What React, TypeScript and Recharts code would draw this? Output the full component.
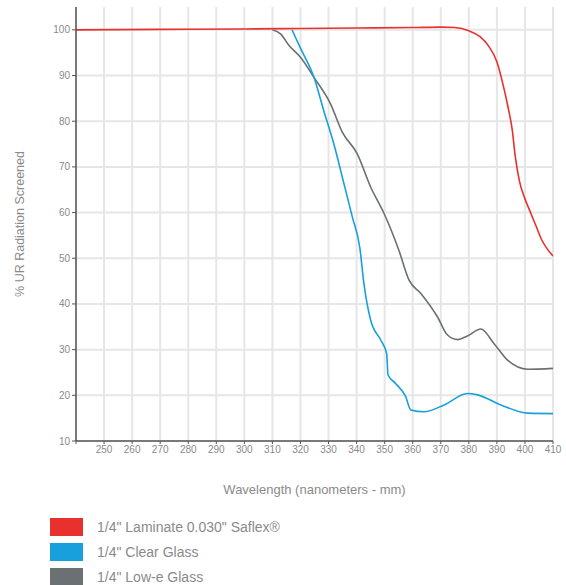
import { LineChart, Line, XAxis, YAxis, Label, ReferenceLine } from "recharts";

// wavelength (nm) / % screened
const laminateX = [240, 270, 300, 320, 340, 360, 370, 375, 380, 384, 387, 390, 392, 394, 395.5, 396.5, 398, 400, 402, 404, 406, 408, 410];
const laminateY = [100, 100.1, 100.2, 100.3, 100.4, 100.5, 100.6, 100.5, 99.8, 98.5, 96.5, 93, 88.5, 83, 78, 72.5, 67, 63, 60, 57, 54, 52, 50.5];

const clearX = [317, 320, 324.8, 328.3, 331.9, 335.5, 338.5, 341.2, 342.6, 345, 348.6, 350.7, 351.2, 353.9, 357.5, 359.3, 364, 371.2, 379.5, 383.1, 391.4, 401, 410];
const clearY = [100, 96, 89.6, 82.3, 75, 66.3, 59, 52.1, 44.5, 36.5, 32.1, 29.2, 24.5, 22.6, 19.7, 16.8, 16.4, 17.9, 20.4, 20.1, 17.9, 16.1, 16];

const lowEX = [310, 312.9, 316, 320, 324.8, 330.7, 334.9, 340.2, 345, 349.8, 355.1, 358.7, 362.9, 368.8, 372.4, 376, 379.5, 384.3, 389, 393.8, 401, 410];
const lowEY = [100, 99.1, 96.5, 94, 89.6, 83.8, 77.6, 72.9, 65.6, 59.8, 51.7, 45.2, 42.3, 37.2, 33.2, 32.2, 33, 34.5, 31.3, 27.7, 25.7, 25.9];

const xTicks = [240, 250, 260, 270, 280, 290, 300, 310, 320, 330, 340, 350, 360, 370, 380, 390, 400, 410];
const yTicks = [10, 20, 30, 40, 50, 60, 70, 80, 90, 100];

const seriesNames = ['1/4" Laminate 0.030" Saflex®', '1/4" Clear Glass', '1/4" Low-e Glass'];
const COLORS = ["#e8302c", "#18a0dc", "#6b7073"];

const toPoints = (xs: number[], ys: number[]) => xs.map((x, i) => ({ x, y: ys[i] }));

const laminate = toPoints(laminateX, laminateY);
const clear = toPoints(clearX, clearY);
const lowE = toPoints(lowEX, lowEY);

const FONT = "'Liberation Sans', Arial, sans-serif";
const tickStyle = { fontSize: 10, fill: "#8a8a8a", fontFamily: FONT };
const GRID = "#e6e6e6";

export default function App() {
  return (
    <div style={{ position: "absolute", left: 0, top: 0, width: 566, height: 585, fontFamily: FONT }}>
      <LineChart width={566} height={500} margin={{ top: 7, right: 13, bottom: 9, left: 0 }}>
        {/* grid drawn per tick so there is no border line along the top edge */}
        {xTicks.map((t) => (
          <ReferenceLine key={`vx${t}`} x={t} stroke={GRID} strokeWidth={2} />
        ))}
        {yTicks.map((t) => (
          <ReferenceLine key={`hy${t}`} y={t} stroke={GRID} strokeWidth={2} />
        ))}
        <XAxis
          type="number"
          dataKey="x"
          domain={[240, 410]}
          ticks={xTicks}
          interval={0}
          tickFormatter={(v: number) => (v === 240 ? "" : String(v))}
          tick={tickStyle}
          tickLine={{ stroke: "#555" }}
          tickSize={3}
          axisLine={{ stroke: "#555", strokeWidth: 1.5 }}
          height={50}
          allowDataOverflow
        >
          <Label value="Wavelength (nanometers - mm)" position="insideBottom" offset={-3} style={{ fontSize: 13, fill: "#8a8a8a", fontFamily: FONT }} />
        </XAxis>
        <YAxis
          type="number"
          domain={[10, 105]}
          ticks={yTicks}
          interval={0}
          tick={tickStyle}
          tickLine={{ stroke: "#555" }}
          tickSize={4}
          axisLine={{ stroke: "#555", strokeWidth: 1.5 }}
          width={76}
          allowDataOverflow
        >
          <Label
            value="% UR Radiation Screened"
            angle={-90}
            position="insideLeft"
            offset={20}
            style={{ fontSize: 12.5, fill: "#8a8a8a", fontFamily: FONT, textAnchor: "middle" }}
          />
        </YAxis>
        <Line data={laminate} dataKey="y" type="monotone" stroke={COLORS[0]} strokeWidth={1.6} dot={false} isAnimationActive={false} />
        <Line data={lowE} dataKey="y" type="monotone" stroke={COLORS[2]} strokeWidth={1.6} dot={false} isAnimationActive={false} />
        <Line data={clear} dataKey="y" type="monotone" stroke={COLORS[1]} strokeWidth={1.6} dot={false} isAnimationActive={false} />
      </LineChart>
      <div style={{ position: "absolute", left: 50, top: 515 }}>
        {seriesNames.map((name, i) => (
          <div key={name} style={{ display: "flex", alignItems: "center", height: 24.7 }}>
            <div style={{ width: 33, height: 18, background: COLORS[i] }} />
            <span style={{ marginLeft: 14, fontSize: 14, color: "#8a8a8a" }}>{name}</span>
          </div>
        ))}
      </div>
    </div>
  );
}
